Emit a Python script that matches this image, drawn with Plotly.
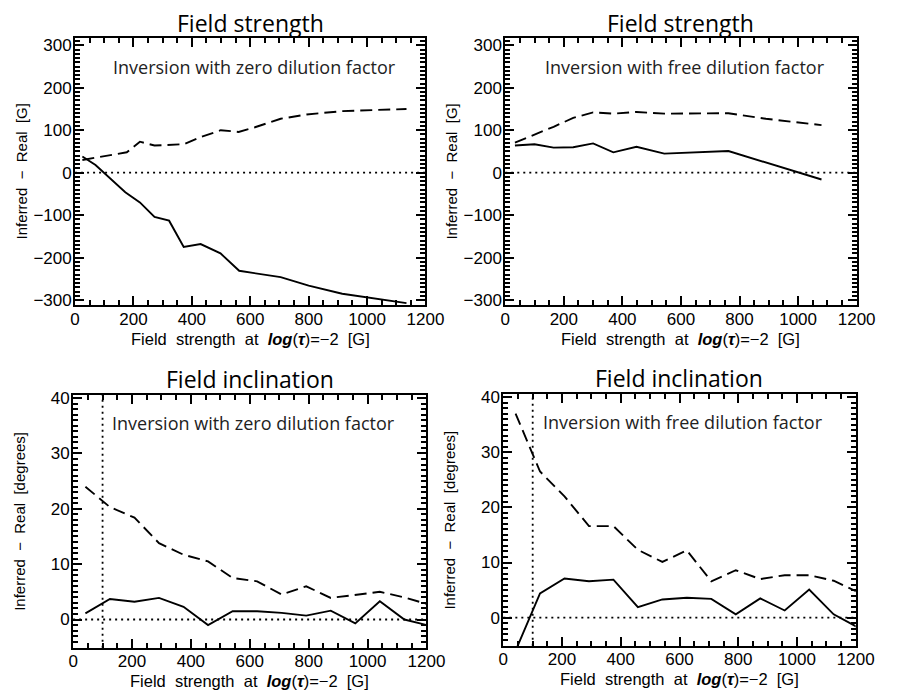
import plotly.graph_objects as go

# ---------------- data ----------------
# Top-left: field strength, zero dilution factor
fs_zero_x = [25, 70, 172, 222, 272, 322, 372, 430, 498, 562, 704, 800, 915, 1135]
fs_zero_solid = [38, 18, -46, -70, -104, -113, -175, -168, -190, -231, -246, -266, -285, -307]
fs_zero_dash_x = [25, 177, 222, 272, 372, 427, 499, 560, 616, 704, 793, 915, 1135]
fs_zero_dash = [30, 48, 73, 64, 67, 83, 100, 96, 107, 127, 137, 145, 150]

# Top-right: field strength, free dilution factor
fs_free_x = [33, 100, 165, 232, 300, 369, 448, 543, 762, 890, 1080]
fs_free_solid = [64, 67, 59, 60, 69, 48, 61, 45, 51, 24, -16]
fs_free_dash = [71, 90, 108, 129, 142, 139, 143, 139, 140, 127, 112]

# Bottom: field inclination (bins of ~83 G)
inc_x = [41.7, 125, 208.3, 291.7, 375, 458.3, 541.7, 625, 708.3, 791.7, 875, 958.3, 1041.7, 1125, 1208.3]
inc_zero_solid = [1.1, 3.7, 3.2, 3.9, 2.3, -1.0, 1.5, 1.5, 1.2, 0.7, 1.6, -0.7, 3.3, 0.0, -1.1]
inc_zero_dash = [24.0, 20.3, 18.4, 13.8, 11.7, 10.5, 7.5, 6.9, 4.5, 6.0, 3.9, 4.5, 5.0, 4.0, 2.7]
inc_free_solid = [-6.0, 4.4, 7.1, 6.6, 6.9, 1.9, 3.3, 3.6, 3.4, 0.6, 3.5, 1.3, 5.1, 0.6, -1.8]
inc_free_dash = [37.0, 26.5, 22.0, 16.6, 16.6, 12.3, 10.1, 12.2, 6.6, 8.6, 7.0, 7.7, 7.7, 6.7, 4.6]

zero_level = 0
threshold_x = 100

titles = ["Field strength", "Field strength", "Field inclination", "Field inclination"]
notes = ["Inversion with zero dilution factor", "Inversion with free dilution factor",
         "Inversion with zero dilution factor", "Inversion with free dilution factor"]
NB = "\u00a0"
S2 = NB * 2
xlabel = f"Field{S2}strength{S2}at{S2}<b><i>log</i></b>(<b><i>τ</i></b>)=−2{S2}[G]"
ylabels = [f"Inferred{S2}−{S2}Real{S2}[G]", f"Inferred{S2}−{S2}Real{S2}[G]",
           f"Inferred{S2}−{S2}Real{S2}[degrees]", f"Inferred{S2}−{S2}Real{S2}[degrees]"]

# ---------------- layout geometry (px) ----------------
W, H = 899, 699
boxes = [  # x0, x1, y0(top), y1(bottom)
    (72, 432, 33, 304),
    (514, 875, 33, 304),
    (70, 433, 395, 652),
    (512, 874, 394, 650),
]

fig = go.Figure()

solid = dict(color="black", width=1.9)
dashed = dict(color="black", width=1.9, dash="12px,6px")

series = [
    (fs_zero_x, fs_zero_solid, fs_zero_dash_x, fs_zero_dash),
    (fs_free_x, fs_free_solid, fs_free_x, fs_free_dash),
    (inc_x, inc_zero_solid, inc_x, inc_zero_dash),
    (inc_x, inc_free_solid, inc_x, inc_free_dash),
]

for i, (xs, ys, xd, yd) in enumerate(series):
    ax = "" if i == 0 else str(i + 1)
    fig.add_trace(go.Scatter(x=xd, y=yd, mode="lines", line=dashed,
                             xaxis="x" + ax, yaxis="y" + ax, showlegend=False, hoverinfo="skip"))
    fig.add_trace(go.Scatter(x=xs, y=ys, mode="lines", line=solid,
                             xaxis="x" + ax, yaxis="y" + ax, showlegend=False))

tickfont = dict(family="Liberation Sans, Arial, sans-serif", size=17, color="black")
axis_common = dict(showline=True, linecolor="black", linewidth=2, mirror="allticks",
                   ticks="inside", ticklen=9, tickwidth=2, tickcolor="black",
                   showgrid=False, zeroline=False, tickfont=tickfont)

layout = dict(width=W, height=H, margin=dict(l=0, r=0, t=0, b=0),
              paper_bgcolor="white", plot_bgcolor="white", showlegend=False)

annotations = []
shapes = []
for i, (x0, x1, y0, y1) in enumerate(boxes):
    ax = "" if i == 0 else str(i + 1)
    xdom = [x0 / W, x1 / W]
    ydom = [1 - y1 / H, 1 - y0 / H]
    if i < 2:
        yr, ydt, ymin = [-312, 316], 100, 10
    else:
        yr, ydt, ymin = [-5.1, 40.6], 10, 1
    xr = [0, 1200]
    layout["xaxis" + ax] = dict(axis_common, domain=xdom, anchor="y" + ax, range=xr,
                                tick0=0, dtick=200, ticklabelstandoff=-3,
                                minor=dict(ticks="inside", ticklen=5, tickwidth=1.6,
                                           tickcolor="black", dtick=50))
    layout["yaxis" + ax] = dict(axis_common, domain=ydom, anchor="x" + ax, range=yr,
                                tick0=0, dtick=ydt, ticklabelstandoff=-2,
                                minor=dict(ticks="inside", ticklen=5, tickwidth=1.6,
                                           tickcolor="black", dtick=ymin))
    xc = (x0 + x1) / 2
    # panel title
    annotations.append(dict(text=titles[i], x=xc / W, y=1 - (y0 - 16) / H, xref="paper", yref="paper",
                            showarrow=False, xanchor="center", yanchor="middle",
                            font=dict(family="Open Sans, sans-serif", size=23, color="black")))
    # inner note
    annotations.append(dict(text=notes[i], x=(xc + 4) / W, y=1 - (y0 + 29) / H, xref="paper", yref="paper",
                            showarrow=False, xanchor="center", yanchor="middle",
                            font=dict(family="Open Sans, sans-serif", size=18, color="#222")))
    # x title
    annotations.append(dict(text=xlabel, x=xc / W, y=1 - (y1 + 34) / H, xref="paper", yref="paper",
                            showarrow=False, xanchor="center", yanchor="middle",
                            font=dict(family="Liberation Sans, Arial, sans-serif", size=16.5, color="black")))
    # y title
    annotations.append(dict(text=ylabels[i], x=(x0 - 55) / W, y=1 - ((y0 + y1) / 2) / H,
                            xref="paper", yref="paper", textangle=-90,
                            showarrow=False, xanchor="center", yanchor="middle",
                            font=dict(family="Liberation Sans, Arial, sans-serif", size=15, color="black")))
    # dotted zero line
    shapes.append(dict(type="line", xref="x" + ax + " domain", yref="y" + ax,
                       x0=0, x1=1, y0=zero_level, y1=zero_level,
                       line=dict(color="black", width=1.8, dash="2px,4px")))
    if i >= 2:
        shapes.append(dict(type="line", xref="x" + ax, yref="y" + ax + " domain",
                           x0=threshold_x, x1=threshold_x, y0=0, y1=1,
                           line=dict(color="black", width=1.8, dash="2px,4px")))

layout["annotations"] = annotations
layout["shapes"] = shapes
fig.update_layout(**layout)

fig.write_html("out.html", config={"displayModeBar": False},
               post_script="document.body.style.margin='0';document.body.style.overflow='hidden';")
